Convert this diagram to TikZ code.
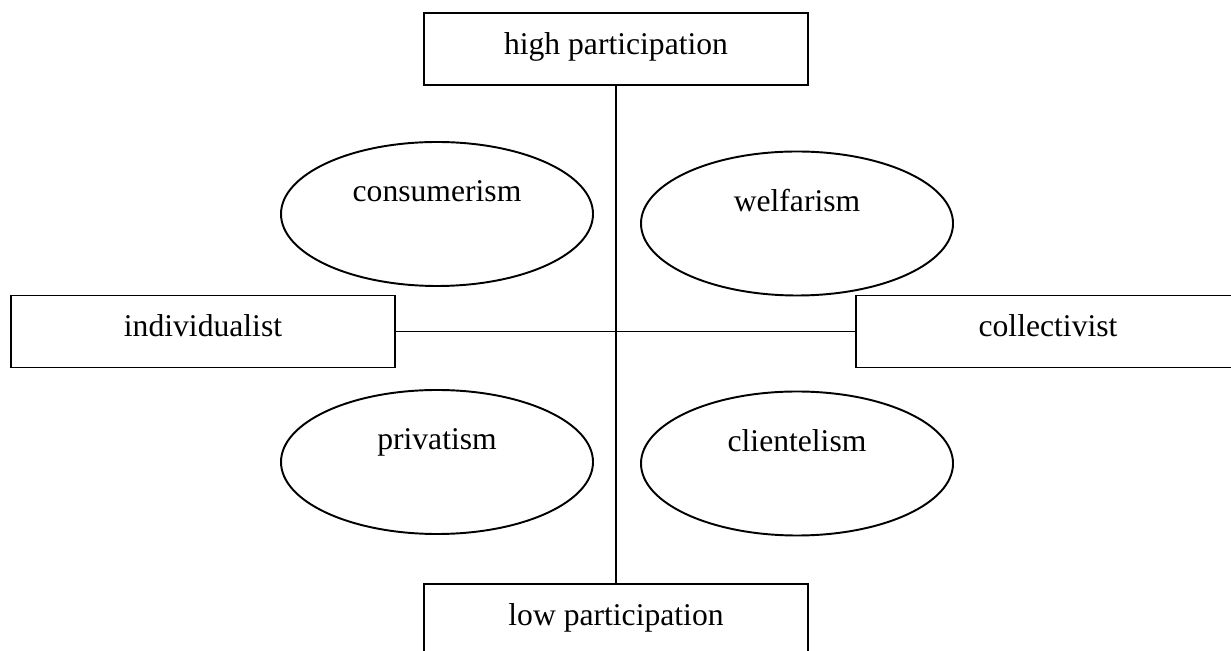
\documentclass[tikz,border=0pt]{standalone}
\usepackage{fontspec}
\setmainfont{Liberation Serif}
\usetikzlibrary{shapes.geometric}
\begin{document}
\begin{tikzpicture}[
        line width = 0.55pt,
        every node/.style = {font = \fontsize{9}{11}\selectfont},
        axisbox/.style = {draw, minimum width = 3.84cm, minimum height = 0.72cm, inner sep = 0pt, text height = 0.22cm, text depth = 0.11cm},
        kind/.style = {draw, ellipse, minimum width = 3.12cm, minimum height = 1.44cm, inner sep = 0pt, text height = 0.22cm, text depth = 0.46cm}
    ]
        \useasboundingbox (0, 0) rectangle (12.31, 6.5);
        \node[axisbox] (high) at (6.16, 6.01) {high participation};
        \node[axisbox] (low) at (6.16, 0.30) {low participation};
        \node[axisbox] (indiv) at (2.03, 3.185) {individualist};
        \node[axisbox] (coll) at (10.48, 3.185) {collectivist};
        \draw[] (high) -- (low);
        \draw[] (indiv) -- (coll);
        \node[kind] (consum) at (4.37, 4.36) {consumerism};
        \node[kind] (welfare) at (7.97, 4.265) {welfarism};
        \node[kind] (private) at (4.37, 1.88) {privatism};
        \node[kind] (client) at (7.97, 1.865) {clientelism};
    \end{tikzpicture}
\end{document}
